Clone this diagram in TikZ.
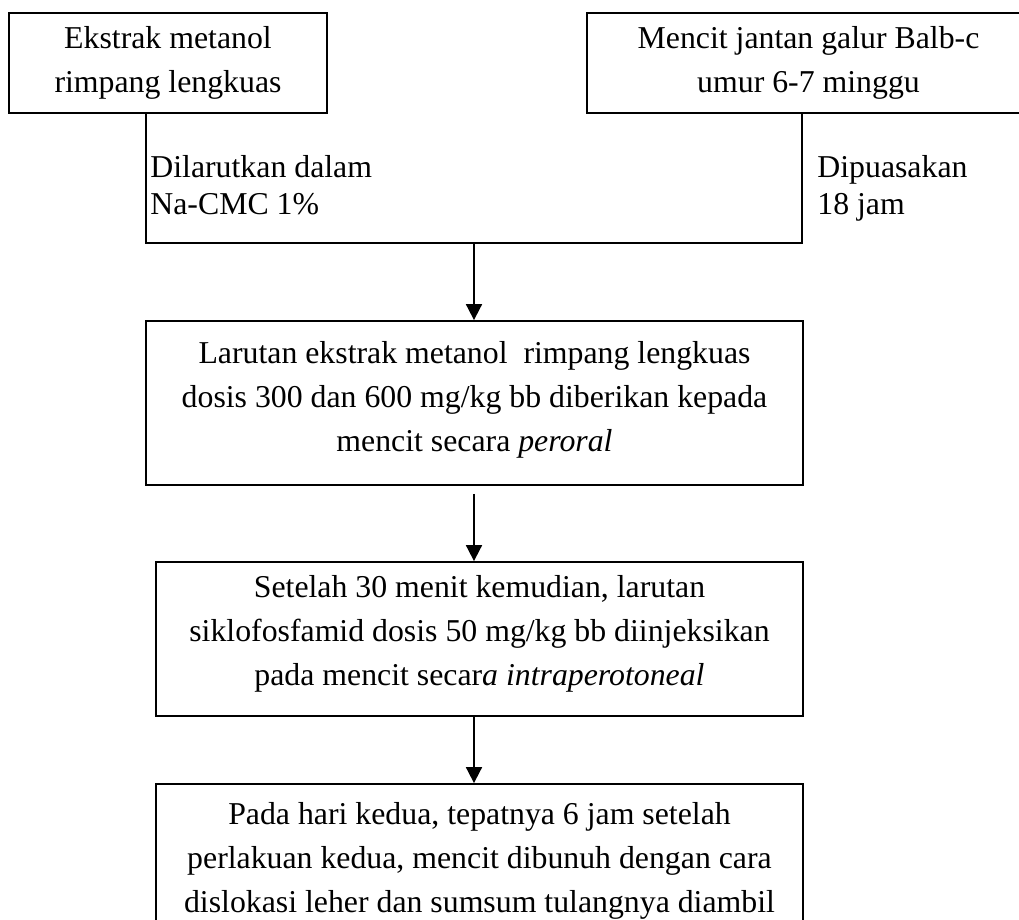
\documentclass[tikz,border=0pt]{standalone}
\usepackage{fontspec}
\setmainfont{Liberation Serif}
\usetikzlibrary{arrows.meta}

\begin{document}
\begin{tikzpicture}[x=0.5pt,y=-0.5pt,
		box/.style={draw, line width=0.9pt, align=center, inner sep=0pt, font=\fontsize{15.9}{22}\selectfont},
		lbl/.style={anchor=north west, align=left, inner sep=0pt, font=\fontsize{15.9}{18.5}\selectfont},
		arr/.style={-{Triangle[width=8pt,length=8pt]}, line width=0.9pt}]
		\useasboundingbox (0,0) rectangle (1019,920);
		\node[box, minimum width=159pt, minimum height=50pt] (ekstrak) at (168,63) {Ekstrak metanol\\rimpang lengkuas};
		\node[box, minimum width=221.5pt, minimum height=50pt] (mencit) at (808.5,63) {Mencit jantan galur Balb-c\\umur 6-7 minggu};
		\node[lbl] (larut) at (150,155) {Dilarutkan dalam\\Na-CMC 1\%};
		\node[lbl] (puasa) at (817,155) {Dipuasakan\\18 jam};
		\node[box, minimum width=328.5pt, minimum height=82pt] (larutan) at (474.5,403) {Larutan ekstrak metanol\ \ rimpang lengkuas\\dosis 300 dan 600 mg/kg bb diberikan kepada\\mencit secara \textit{peroral}\rule[-6.5pt]{0pt}{0pt}};
		\node[box, minimum width=323.5pt, minimum height=77pt] (siklo) at (479.5,639) {Setelah 30 menit kemudian, larutan\\siklofosfamid dosis 50 mg/kg bb diinjeksikan\\pada mencit secar\textit{a intraperotoneal}\rule[-8.5pt]{0pt}{0pt}};
		\node[box, minimum width=323.5pt, minimum height=77pt] (bunuh) at (479.5,861) {Pada hari kedua, tepatnya 6 jam setelah\\perlakuan kedua, mencit dibunuh dengan cara\\dislokasi leher dan sumsum tulangnya diambil};
		\coordinate (kiri) at (146,243);
		\coordinate (kanan) at (802,243);
		\coordinate (tengah) at (474,243);
		\draw[line width=0.9pt] (ekstrak.south -| kiri) -- (kiri) -- (kanan) -- (mencit.south -| kanan);
		\draw[arr] (tengah) -- (larutan.north -| tengah);
		\draw[arr, shorten <=4pt] (larutan.south -| tengah) -- (siklo.north -| tengah);
		\draw[arr] (siklo.south -| tengah) -- (bunuh.north -| tengah);
	\end{tikzpicture}
\end{document}
